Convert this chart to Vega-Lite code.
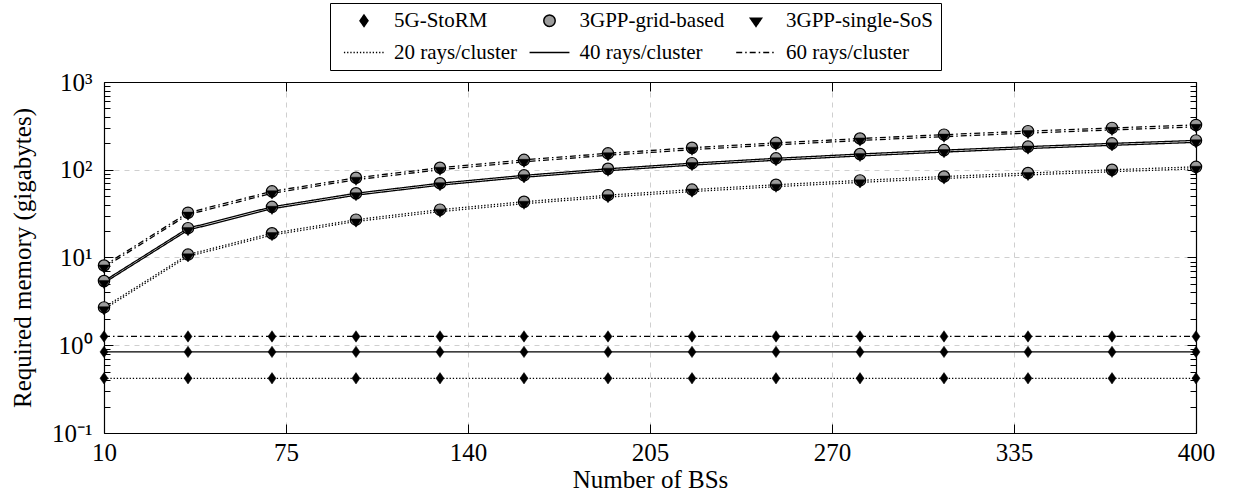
{
  "$schema": "https://vega.github.io/schema/vega-lite/v6.json",
  "autosize": "none",
  "width": 1092,
  "height": 351,
  "padding": {"left": 104, "top": 82, "right": 39, "bottom": 65},
  "background": "white",
  "config": {
    "view": {"stroke": null},
    "font": "Liberation Serif",
    "axis": {
      "domainColor": "black",
      "domainWidth": 1.2,
      "tickColor": "black",
      "tickWidth": 1,
      "labelColor": "black",
      "titleColor": "black",
      "labelFont": "Liberation Serif",
      "titleFont": "Liberation Serif",
      "titleFontWeight": "normal",
      "gridColor": "#cfcfcf",
      "gridDash": [5, 5],
      "gridWidth": 1
    },
    "legend": {
      "title": null,
      "orient": "none",
      "legendX": 226,
      "legendY": -79,
      "direction": "horizontal",
      "columns": 3,
      "gridAlign": "each",
      "columnPadding": 4.5,
      "rowPadding": 10,
      "padding": 7,
      "strokeColor": "black",
      "fillColor": "white",
      "labelFont": "Liberation Serif",
      "labelFontSize": 21,
      "labelColor": "black",
      "labelLimit": 400,
      "labelOffset": 19.5,
      "symbolOffset": 16.5
    }
  },
  "data": {
    "values": [
      {"bs": 10, "method": "5G-StoRM", "rays": "20 rays/cluster", "gb": 0.42},
      {"bs": 40, "method": "5G-StoRM", "rays": "20 rays/cluster", "gb": 0.42},
      {"bs": 70, "method": "5G-StoRM", "rays": "20 rays/cluster", "gb": 0.42},
      {"bs": 100, "method": "5G-StoRM", "rays": "20 rays/cluster", "gb": 0.42},
      {"bs": 130, "method": "5G-StoRM", "rays": "20 rays/cluster", "gb": 0.42},
      {"bs": 160, "method": "5G-StoRM", "rays": "20 rays/cluster", "gb": 0.42},
      {"bs": 190, "method": "5G-StoRM", "rays": "20 rays/cluster", "gb": 0.42},
      {"bs": 220, "method": "5G-StoRM", "rays": "20 rays/cluster", "gb": 0.42},
      {"bs": 250, "method": "5G-StoRM", "rays": "20 rays/cluster", "gb": 0.42},
      {"bs": 280, "method": "5G-StoRM", "rays": "20 rays/cluster", "gb": 0.42},
      {"bs": 310, "method": "5G-StoRM", "rays": "20 rays/cluster", "gb": 0.42},
      {"bs": 340, "method": "5G-StoRM", "rays": "20 rays/cluster", "gb": 0.42},
      {"bs": 370, "method": "5G-StoRM", "rays": "20 rays/cluster", "gb": 0.42},
      {"bs": 400, "method": "5G-StoRM", "rays": "20 rays/cluster", "gb": 0.42},
      {"bs": 10, "method": "5G-StoRM", "rays": "40 rays/cluster", "gb": 0.84},
      {"bs": 40, "method": "5G-StoRM", "rays": "40 rays/cluster", "gb": 0.84},
      {"bs": 70, "method": "5G-StoRM", "rays": "40 rays/cluster", "gb": 0.84},
      {"bs": 100, "method": "5G-StoRM", "rays": "40 rays/cluster", "gb": 0.84},
      {"bs": 130, "method": "5G-StoRM", "rays": "40 rays/cluster", "gb": 0.84},
      {"bs": 160, "method": "5G-StoRM", "rays": "40 rays/cluster", "gb": 0.84},
      {"bs": 190, "method": "5G-StoRM", "rays": "40 rays/cluster", "gb": 0.84},
      {"bs": 220, "method": "5G-StoRM", "rays": "40 rays/cluster", "gb": 0.84},
      {"bs": 250, "method": "5G-StoRM", "rays": "40 rays/cluster", "gb": 0.84},
      {"bs": 280, "method": "5G-StoRM", "rays": "40 rays/cluster", "gb": 0.84},
      {"bs": 310, "method": "5G-StoRM", "rays": "40 rays/cluster", "gb": 0.84},
      {"bs": 340, "method": "5G-StoRM", "rays": "40 rays/cluster", "gb": 0.84},
      {"bs": 370, "method": "5G-StoRM", "rays": "40 rays/cluster", "gb": 0.84},
      {"bs": 400, "method": "5G-StoRM", "rays": "40 rays/cluster", "gb": 0.84},
      {"bs": 10, "method": "5G-StoRM", "rays": "60 rays/cluster", "gb": 1.26},
      {"bs": 40, "method": "5G-StoRM", "rays": "60 rays/cluster", "gb": 1.26},
      {"bs": 70, "method": "5G-StoRM", "rays": "60 rays/cluster", "gb": 1.26},
      {"bs": 100, "method": "5G-StoRM", "rays": "60 rays/cluster", "gb": 1.26},
      {"bs": 130, "method": "5G-StoRM", "rays": "60 rays/cluster", "gb": 1.26},
      {"bs": 160, "method": "5G-StoRM", "rays": "60 rays/cluster", "gb": 1.26},
      {"bs": 190, "method": "5G-StoRM", "rays": "60 rays/cluster", "gb": 1.26},
      {"bs": 220, "method": "5G-StoRM", "rays": "60 rays/cluster", "gb": 1.26},
      {"bs": 250, "method": "5G-StoRM", "rays": "60 rays/cluster", "gb": 1.26},
      {"bs": 280, "method": "5G-StoRM", "rays": "60 rays/cluster", "gb": 1.26},
      {"bs": 310, "method": "5G-StoRM", "rays": "60 rays/cluster", "gb": 1.26},
      {"bs": 340, "method": "5G-StoRM", "rays": "60 rays/cluster", "gb": 1.26},
      {"bs": 370, "method": "5G-StoRM", "rays": "60 rays/cluster", "gb": 1.26},
      {"bs": 400, "method": "5G-StoRM", "rays": "60 rays/cluster", "gb": 1.26},

      {"bs": 10, "method": "3GPP-grid-based", "rays": "20 rays/cluster", "gb": 2.7},
      {"bs": 40, "method": "3GPP-grid-based", "rays": "20 rays/cluster", "gb": 10.8},
      {"bs": 70, "method": "3GPP-grid-based", "rays": "20 rays/cluster", "gb": 18.9},
      {"bs": 100, "method": "3GPP-grid-based", "rays": "20 rays/cluster", "gb": 27},
      {"bs": 130, "method": "3GPP-grid-based", "rays": "20 rays/cluster", "gb": 35.1},
      {"bs": 160, "method": "3GPP-grid-based", "rays": "20 rays/cluster", "gb": 43.2},
      {"bs": 190, "method": "3GPP-grid-based", "rays": "20 rays/cluster", "gb": 51.3},
      {"bs": 220, "method": "3GPP-grid-based", "rays": "20 rays/cluster", "gb": 59.4},
      {"bs": 250, "method": "3GPP-grid-based", "rays": "20 rays/cluster", "gb": 67.5},
      {"bs": 280, "method": "3GPP-grid-based", "rays": "20 rays/cluster", "gb": 75.6},
      {"bs": 310, "method": "3GPP-grid-based", "rays": "20 rays/cluster", "gb": 83.7},
      {"bs": 340, "method": "3GPP-grid-based", "rays": "20 rays/cluster", "gb": 91.8},
      {"bs": 370, "method": "3GPP-grid-based", "rays": "20 rays/cluster", "gb": 99.9},
      {"bs": 400, "method": "3GPP-grid-based", "rays": "20 rays/cluster", "gb": 108},
      {"bs": 10, "method": "3GPP-grid-based", "rays": "40 rays/cluster", "gb": 5.4},
      {"bs": 40, "method": "3GPP-grid-based", "rays": "40 rays/cluster", "gb": 21.6},
      {"bs": 70, "method": "3GPP-grid-based", "rays": "40 rays/cluster", "gb": 37.8},
      {"bs": 100, "method": "3GPP-grid-based", "rays": "40 rays/cluster", "gb": 54},
      {"bs": 130, "method": "3GPP-grid-based", "rays": "40 rays/cluster", "gb": 70.2},
      {"bs": 160, "method": "3GPP-grid-based", "rays": "40 rays/cluster", "gb": 86.4},
      {"bs": 190, "method": "3GPP-grid-based", "rays": "40 rays/cluster", "gb": 102.6},
      {"bs": 220, "method": "3GPP-grid-based", "rays": "40 rays/cluster", "gb": 118.8},
      {"bs": 250, "method": "3GPP-grid-based", "rays": "40 rays/cluster", "gb": 135},
      {"bs": 280, "method": "3GPP-grid-based", "rays": "40 rays/cluster", "gb": 151.2},
      {"bs": 310, "method": "3GPP-grid-based", "rays": "40 rays/cluster", "gb": 167.4},
      {"bs": 340, "method": "3GPP-grid-based", "rays": "40 rays/cluster", "gb": 183.6},
      {"bs": 370, "method": "3GPP-grid-based", "rays": "40 rays/cluster", "gb": 199.8},
      {"bs": 400, "method": "3GPP-grid-based", "rays": "40 rays/cluster", "gb": 216},
      {"bs": 10, "method": "3GPP-grid-based", "rays": "60 rays/cluster", "gb": 8.1},
      {"bs": 40, "method": "3GPP-grid-based", "rays": "60 rays/cluster", "gb": 32.4},
      {"bs": 70, "method": "3GPP-grid-based", "rays": "60 rays/cluster", "gb": 56.7},
      {"bs": 100, "method": "3GPP-grid-based", "rays": "60 rays/cluster", "gb": 81},
      {"bs": 130, "method": "3GPP-grid-based", "rays": "60 rays/cluster", "gb": 105.3},
      {"bs": 160, "method": "3GPP-grid-based", "rays": "60 rays/cluster", "gb": 129.6},
      {"bs": 190, "method": "3GPP-grid-based", "rays": "60 rays/cluster", "gb": 153.9},
      {"bs": 220, "method": "3GPP-grid-based", "rays": "60 rays/cluster", "gb": 178.2},
      {"bs": 250, "method": "3GPP-grid-based", "rays": "60 rays/cluster", "gb": 202.5},
      {"bs": 280, "method": "3GPP-grid-based", "rays": "60 rays/cluster", "gb": 226.8},
      {"bs": 310, "method": "3GPP-grid-based", "rays": "60 rays/cluster", "gb": 251.1},
      {"bs": 340, "method": "3GPP-grid-based", "rays": "60 rays/cluster", "gb": 275.4},
      {"bs": 370, "method": "3GPP-grid-based", "rays": "60 rays/cluster", "gb": 299.7},
      {"bs": 400, "method": "3GPP-grid-based", "rays": "60 rays/cluster", "gb": 324},

      {"bs": 10, "method": "3GPP-single-SoS", "rays": "20 rays/cluster", "gb": 2.57},
      {"bs": 40, "method": "3GPP-single-SoS", "rays": "20 rays/cluster", "gb": 10.3},
      {"bs": 70, "method": "3GPP-single-SoS", "rays": "20 rays/cluster", "gb": 18},
      {"bs": 100, "method": "3GPP-single-SoS", "rays": "20 rays/cluster", "gb": 25.7},
      {"bs": 130, "method": "3GPP-single-SoS", "rays": "20 rays/cluster", "gb": 33.3},
      {"bs": 160, "method": "3GPP-single-SoS", "rays": "20 rays/cluster", "gb": 41},
      {"bs": 190, "method": "3GPP-single-SoS", "rays": "20 rays/cluster", "gb": 48.7},
      {"bs": 220, "method": "3GPP-single-SoS", "rays": "20 rays/cluster", "gb": 56.4},
      {"bs": 250, "method": "3GPP-single-SoS", "rays": "20 rays/cluster", "gb": 64.1},
      {"bs": 280, "method": "3GPP-single-SoS", "rays": "20 rays/cluster", "gb": 71.8},
      {"bs": 310, "method": "3GPP-single-SoS", "rays": "20 rays/cluster", "gb": 79.5},
      {"bs": 340, "method": "3GPP-single-SoS", "rays": "20 rays/cluster", "gb": 87.2},
      {"bs": 370, "method": "3GPP-single-SoS", "rays": "20 rays/cluster", "gb": 94.9},
      {"bs": 400, "method": "3GPP-single-SoS", "rays": "20 rays/cluster", "gb": 102.6},
      {"bs": 10, "method": "3GPP-single-SoS", "rays": "40 rays/cluster", "gb": 5.13},
      {"bs": 40, "method": "3GPP-single-SoS", "rays": "40 rays/cluster", "gb": 20.5},
      {"bs": 70, "method": "3GPP-single-SoS", "rays": "40 rays/cluster", "gb": 35.9},
      {"bs": 100, "method": "3GPP-single-SoS", "rays": "40 rays/cluster", "gb": 51.3},
      {"bs": 130, "method": "3GPP-single-SoS", "rays": "40 rays/cluster", "gb": 66.7},
      {"bs": 160, "method": "3GPP-single-SoS", "rays": "40 rays/cluster", "gb": 82.1},
      {"bs": 190, "method": "3GPP-single-SoS", "rays": "40 rays/cluster", "gb": 97.5},
      {"bs": 220, "method": "3GPP-single-SoS", "rays": "40 rays/cluster", "gb": 112.9},
      {"bs": 250, "method": "3GPP-single-SoS", "rays": "40 rays/cluster", "gb": 128.3},
      {"bs": 280, "method": "3GPP-single-SoS", "rays": "40 rays/cluster", "gb": 143.6},
      {"bs": 310, "method": "3GPP-single-SoS", "rays": "40 rays/cluster", "gb": 159},
      {"bs": 340, "method": "3GPP-single-SoS", "rays": "40 rays/cluster", "gb": 174.4},
      {"bs": 370, "method": "3GPP-single-SoS", "rays": "40 rays/cluster", "gb": 189.8},
      {"bs": 400, "method": "3GPP-single-SoS", "rays": "40 rays/cluster", "gb": 205.2},
      {"bs": 10, "method": "3GPP-single-SoS", "rays": "60 rays/cluster", "gb": 7.7},
      {"bs": 40, "method": "3GPP-single-SoS", "rays": "60 rays/cluster", "gb": 30.8},
      {"bs": 70, "method": "3GPP-single-SoS", "rays": "60 rays/cluster", "gb": 53.9},
      {"bs": 100, "method": "3GPP-single-SoS", "rays": "60 rays/cluster", "gb": 77},
      {"bs": 130, "method": "3GPP-single-SoS", "rays": "60 rays/cluster", "gb": 100},
      {"bs": 160, "method": "3GPP-single-SoS", "rays": "60 rays/cluster", "gb": 123.1},
      {"bs": 190, "method": "3GPP-single-SoS", "rays": "60 rays/cluster", "gb": 146.2},
      {"bs": 220, "method": "3GPP-single-SoS", "rays": "60 rays/cluster", "gb": 169.3},
      {"bs": 250, "method": "3GPP-single-SoS", "rays": "60 rays/cluster", "gb": 192.4},
      {"bs": 280, "method": "3GPP-single-SoS", "rays": "60 rays/cluster", "gb": 215.5},
      {"bs": 310, "method": "3GPP-single-SoS", "rays": "60 rays/cluster", "gb": 238.5},
      {"bs": 340, "method": "3GPP-single-SoS", "rays": "60 rays/cluster", "gb": 261.6},
      {"bs": 370, "method": "3GPP-single-SoS", "rays": "60 rays/cluster", "gb": 284.7},
      {"bs": 400, "method": "3GPP-single-SoS", "rays": "60 rays/cluster", "gb": 307.8}
    ]
  },
  "resolve": {"axis": {"x": "independent", "y": "independent"}},
  "layer": [
    {
      "mark": {"type": "line", "color": "black", "strokeWidth": 1.3},
      "encoding": {
        "x": {
          "field": "bs", "type": "quantitative",
          "scale": {"type": "linear", "domain": [10, 400], "nice": false, "zero": false},
          "axis": {
            "orient": "bottom", "values": [10, 75, 140, 205, 270, 335, 400],
            "title": "Number of BSs", "titleFontSize": 25, "titlePadding": 2,
            "labelFontSize": 25, "labelPadding": 16, "tickSize": -9,
            "labelFlush": false, "labelOverlap": false, "grid": true
          }
        },
        "y": {
          "field": "gb", "type": "quantitative",
          "scale": {"type": "log", "domain": [0.1, 1000], "nice": false},
          "axis": {
            "orient": "left", "values": [0.1, 1, 10, 100, 1000],
            "labelExpr": "datum.value >= 1000 ? '10³' : datum.value >= 100 ? '10²' : datum.value >= 10 ? '10¹' : datum.value >= 1 ? '10⁰' : '10⁻¹'",
            "title": "Required memory (gigabytes)", "titleFontSize": 25, "titlePadding": 16,
            "labelFontSize": 25, "labelPadding": 21, "tickSize": -9,
            "labelOverlap": false, "labelFlush": false, "grid": true
          }
        },
        "detail": {"field": "method", "type": "nominal"},
        "strokeDash": {
          "field": "rays", "type": "nominal",
          "scale": {
            "domain": ["5G-StoRM", "3GPP-grid-based", "3GPP-single-SoS", "20 rays/cluster", "40 rays/cluster", "60 rays/cluster"],
            "range": [[1, 0], [1, 0], [1, 0], [1.3, 1.9], [1, 0], [6, 3, 1.5, 3]]
          }
        }
      }
    },
    {
      "transform": [{"filter": "datum.method === '3GPP-grid-based'"}],
      "mark": {"type": "point", "filled": true, "stroke": "black", "strokeWidth": 1.2, "opacity": 1},
      "encoding": {
        "x": {
          "field": "bs", "type": "quantitative",
          "axis": {"orient": "top", "values": [10, 75, 140, 205, 270, 335, 400], "labels": false, "title": null, "tickSize": -9, "grid": false}
        },
        "y": {
          "field": "gb", "type": "quantitative",
          "axis": {"orient": "right", "values": [0.1, 1, 10, 100, 1000], "labels": false, "title": null, "tickSize": -9, "grid": false}
        },
        "color": {
          "field": "method", "type": "nominal",
          "scale": {
            "domain": ["5G-StoRM", "3GPP-grid-based", "3GPP-single-SoS", "20 rays/cluster", "40 rays/cluster", "60 rays/cluster"],
            "range": ["black", "#9c9c9c", "black", "transparent", "transparent", "transparent"]
          }
        },
        "shape": {
          "field": "method", "type": "nominal",
          "scale": {
            "domain": ["5G-StoRM", "3GPP-grid-based", "3GPP-single-SoS", "20 rays/cluster", "40 rays/cluster", "60 rays/cluster"],
            "range": ["M0,-1L0.7,0L0,1L-0.7,0Z", "circle", "M-1,-0.45L1,-0.45L0,1Z", "M-3.6,0H3.6", "M-3.6,0H3.6", "M-3.6,0H3.6"]
          }
        },
        "size": {
          "field": "method", "type": "nominal",
          "scale": {
            "domain": ["5G-StoRM", "3GPP-grid-based", "3GPP-single-SoS", "20 rays/cluster", "40 rays/cluster", "60 rays/cluster"],
            "range": [130, 121, 115, 121, 121, 121]
          }
        }
      }
    },
    {
      "transform": [{"filter": "datum.method === '3GPP-single-SoS'"}],
      "mark": {"type": "point", "filled": true, "stroke": "black", "strokeWidth": 0.5, "opacity": 1},
      "encoding": {
        "x": {"field": "bs", "type": "quantitative", "axis": null},
        "y": {
          "field": "gb", "type": "quantitative",
          "axis": {
            "orient": "left",
            "values": [0.2, 0.3, 0.4, 0.5, 0.6, 0.7, 0.8, 0.9, 2, 3, 4, 5, 6, 7, 8, 9, 20, 30, 40, 50, 60, 70, 80, 90, 200, 300, 400, 500, 600, 700, 800, 900],
            "labels": false, "title": null, "tickSize": -6, "grid": false, "domain": false
          }
        },
        "color": {"field": "method", "type": "nominal"},
        "shape": {"field": "method", "type": "nominal"},
        "size": {"field": "method", "type": "nominal"}
      }
    },
    {
      "transform": [{"filter": "datum.method === '5G-StoRM'"}],
      "mark": {"type": "point", "filled": true, "stroke": "black", "strokeWidth": 0.5, "opacity": 1},
      "encoding": {
        "x": {"field": "bs", "type": "quantitative", "axis": null},
        "y": {
          "field": "gb", "type": "quantitative",
          "axis": {
            "orient": "right",
            "values": [0.2, 0.3, 0.4, 0.5, 0.6, 0.7, 0.8, 0.9, 2, 3, 4, 5, 6, 7, 8, 9, 20, 30, 40, 50, 60, 70, 80, 90, 200, 300, 400, 500, 600, 700, 800, 900],
            "labels": false, "title": null, "tickSize": -6, "grid": false, "domain": false
          }
        },
        "color": {"field": "method", "type": "nominal"},
        "shape": {"field": "method", "type": "nominal"},
        "size": {"field": "method", "type": "nominal"}
      }
    }
  ]
}
